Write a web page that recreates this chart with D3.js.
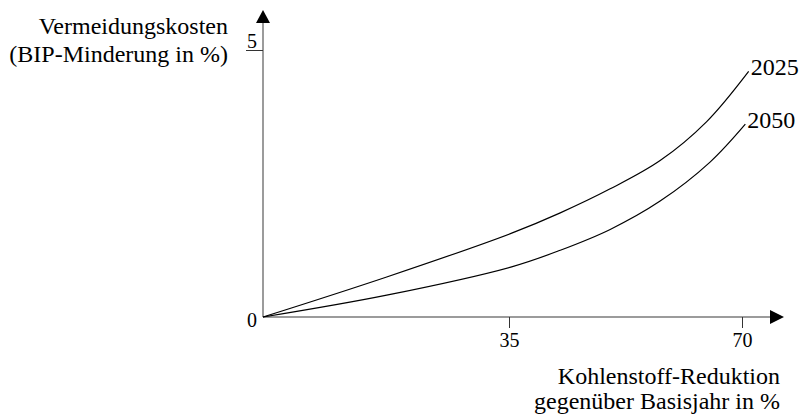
<!DOCTYPE html>
<html>
<head>
<meta charset="utf-8">
<script src="https://cdn.jsdelivr.net/npm/d3@7"></script>
<style>
  html, body { margin: 0; padding: 0; background: #fff; }
  svg text { font-family: "Liberation Serif", "Times New Roman", "DejaVu Serif", serif; fill: #000; }
</style>
</head>
<body>
<div id="chart"></div>
<script>
// data (x: Kohlenstoff-Reduktion in %, y: BIP-Minderung in %)
const reduction2025 = [0, 17.6, 35.4, 42.7, 50.2, 57.7, 64.7, 71];
const cost2025 = [0, 0.75, 1.57, 1.95, 2.4, 2.93, 3.66, 4.6];
const reduction2050 = [0, 17.6, 35.4, 42.7, 50.2, 57.7, 65.2, 70.5];
const cost2050 = [0, 0.41, 0.94, 1.25, 1.64, 2.17, 2.9, 3.61];
const seriesNames = ["2025", "2050"];
const xTicks = [35, 70];
const yTicks = [0, 5];
const yTitle = ["Vermeidungskosten", "(BIP-Minderung in %)"];
const xTitle = ["Kohlenstoff-Reduktion", "gegenüber Basisjahr in %"];

const width = 804;
const height = 414;

const svg = d3.select("#chart")
  .append("svg")
  .attr("width", width)
  .attr("height", height);

// scales (the drawing is schematic, 35 is not exactly halfway)
const x = d3.scaleLinear().domain([0, 35, 70]).range([263, 509, 742]);
const y = d3.scaleLinear().domain([0, 5]).range([317, 50]);

const axisColor = "#7a7a7a";

// axis lines with arrow heads
svg.append("line")
  .attr("x1", x(0)).attr("y1", y(0))
  .attr("x2", x(0)).attr("y2", 20)
  .attr("stroke", axisColor).attr("stroke-width", 1.5);
svg.append("path")
  .attr("d", `M${x(0)},10 L${x(0) - 7},23 L${x(0) + 7},23 Z`)
  .attr("fill", "#000");

svg.append("line")
  .attr("x1", x(0)).attr("y1", y(0))
  .attr("x2", 772).attr("y2", y(0))
  .attr("stroke", axisColor).attr("stroke-width", 1.5);
svg.append("path")
  .attr("d", `M784,${y(0)} L770,${y(0) - 7} L770,${y(0) + 7} Z`)
  .attr("fill", "#000");

// x axis ticks
const gx = svg.append("g")
  .attr("transform", `translate(0,${y(0)})`)
  .call(d3.axisBottom(x).tickValues(xTicks).tickSize(11).tickFormat(d3.format("d")));
gx.attr("font-family", null);
gx.select(".domain").remove();
gx.selectAll(".tick line").attr("stroke", "#333").attr("stroke-width", 1);
gx.selectAll(".tick text")
  .attr("y", 30).attr("dy", null)
  .style("font-size", "20px");

// y axis ticks
const gy = svg.append("g")
  .attr("transform", `translate(${x(0)},0)`)
  .call(d3.axisLeft(y).tickValues(yTicks).tickSize(17).tickFormat(d3.format("d")));
gy.attr("font-family", null);
gy.select(".domain").remove();
gy.selectAll(".tick line")
  .attr("stroke", "#333").attr("stroke-width", 1)
  .attr("display", d => d === 0 ? "none" : null);
gy.selectAll(".tick text")
  .attr("x", -11).attr("dy", null)
  .attr("y", d => d === 0 ? 9 : -3)
  .attr("text-anchor", "middle")
  .style("font-size", "20px");

// curves
const series = [
  { name: seriesNames[0], values: reduction2025.map((r, i) => [r, cost2025[i]]) },
  { name: seriesNames[1], values: reduction2050.map((r, i) => [r, cost2050[i]]) }
];

const line = d3.line()
  .x(d => x(d[0]))
  .y(d => y(d[1]))
  .curve(d3.curveCatmullRom.alpha(0.5));

svg.selectAll(".curve")
  .data(series)
  .enter()
  .append("path")
  .attr("class", "curve")
  .attr("d", d => line(d.values))
  .attr("fill", "none")
  .attr("stroke", "#000")
  .attr("stroke-width", 1.2);

svg.selectAll(".series-label")
  .data(series)
  .enter()
  .append("text")
  .attr("class", "series-label")
  .attr("x", d => x(d.values[d.values.length - 1][0]) + 2)
  .attr("y", d => y(d.values[d.values.length - 1][1]) + 4)
  .style("font-size", "24px")
  .text(d => d.name);

// titles
svg.append("g")
  .selectAll("text")
  .data(yTitle)
  .enter()
  .append("text")
  .attr("x", 228)
  .attr("y", (d, i) => 34 + i * 28)
  .attr("text-anchor", "end")
  .style("font-size", "24px")
  .text(d => d);

svg.append("g")
  .selectAll("text")
  .data(xTitle)
  .enter()
  .append("text")
  .attr("x", 780)
  .attr("y", (d, i) => 384 + i * 25)
  .attr("text-anchor", "end")
  .style("font-size", "24px")
  .text(d => d);
</script>
</body>
</html>
